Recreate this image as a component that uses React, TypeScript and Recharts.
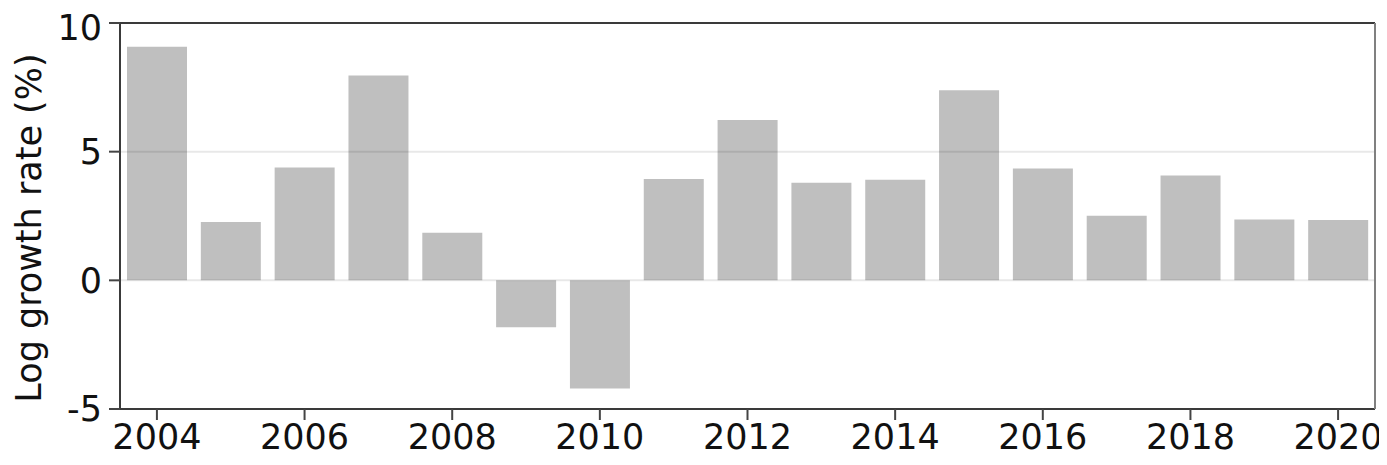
import React from "react";
import { BarChart, Bar, XAxis, YAxis, ReferenceLine } from "recharts";

const years = ["2004","2005","2006","2007","2008","2009","2010","2011","2012","2013","2014","2015","2016","2017","2018","2019","2020"];
const growth = [9.08, 2.27, 4.38, 7.96, 1.85, -1.82, -4.2, 3.94, 6.23, 3.79, 3.91, 7.39, 4.35, 2.51, 4.07, 2.36, 2.34];
const yTicks = [-5, 0, 5, 10];
const gridValues = [5, 0];

const data = years.map((y, i) => ({ year: y, value: growth[i] }));

const FONT = "DejaVu Sans";

const YLabel = (props: any) => {
  const vb = props.viewBox;
  const cx = 21;
  const cy = vb.y + vb.height / 2 + 12;
  return (
    <text
      x={cx}
      y={cy}
      transform={`rotate(-90, ${cx}, ${cy})`}
      textAnchor="middle"
      dominantBaseline="central"
      fontFamily={FONT}
      fontSize={35}
      fill="#111"
    >
      Log growth rate (%)
    </text>
  );
};

export default function App() {
  return (
    <div style={{ width: 1379, height: 457 }}>
      <BarChart
        width={1379}
        height={457}
        data={data}
        margin={{ top: 14, right: 11, bottom: 0, left: 0 }}
        barCategoryGap={7}
      >
        <XAxis
          dataKey="year"
          type="category"
          interval={1}
          height={56}
          axisLine={{ stroke: "#3a3a3a", strokeWidth: 2 }}
          tickLine={{ stroke: "#444", strokeWidth: 2 }}
          tickSize={11}
          tickMargin={4}
          tick={{ fontFamily: FONT, fontSize: 35, fill: "#111" }}
        />
        <XAxis
          xAxisId="top"
          dataKey="year"
          orientation="top"
          height={1}
          tick={false}
          tickLine={false}
          axisLine={{ stroke: "#3a3a3a", strokeWidth: 2 }}
        />
        <YAxis
          type="number"
          domain={[-5, 10]}
          ticks={yTicks}
          width={112}
          allowDataOverflow
          axisLine={{ stroke: "#3a3a3a", strokeWidth: 2 }}
          tickLine={{ stroke: "#444", strokeWidth: 2 }}
          tickSize={11}
          tickMargin={7}
          tick={{ fontFamily: FONT, fontSize: 35, fill: "#111" }}
          label={<YLabel />}
        />
        <YAxis
          yAxisId="right"
          orientation="right"
          type="number"
          domain={[-5, 10]}
          width={1}
          tick={false}
          tickLine={false}
          axisLine={{ stroke: "#808080", strokeWidth: 2 }}
        />
        <Bar dataKey="value" fill="#bfbfbf" isAnimationActive={false} />
        {gridValues.map((v) => (
          <ReferenceLine key={v} y={v} stroke="rgba(0,0,0,0.09)" strokeWidth={2} />
        ))}
      </BarChart>
    </div>
  );
}
